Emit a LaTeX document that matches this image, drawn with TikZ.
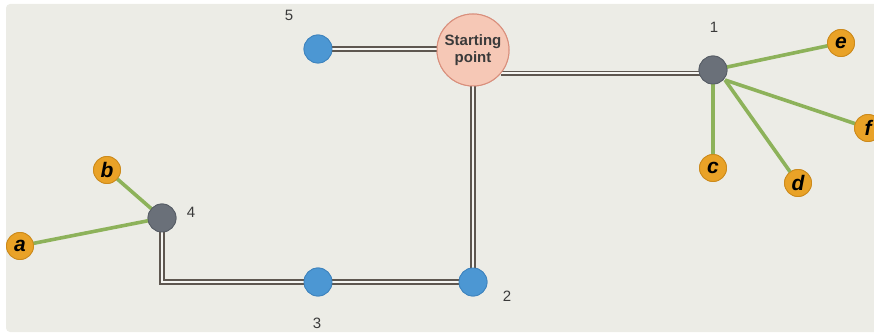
\documentclass[tikz,border=0pt]{standalone}
\usepackage{fontspec}
\setmainfont{Liberation Sans}
\begin{document}
\definecolor{bgc}{HTML}{ECECE6}
\definecolor{leafc}{HTML}{E9A227}
\definecolor{leafd}{HTML}{CC8A1C}
\definecolor{bluec}{HTML}{4C97D3}
\definecolor{blued}{HTML}{3F84BE}
\definecolor{hubc}{HTML}{6A7079}
\definecolor{hubd}{HTML}{575D66}
\definecolor{greenc}{HTML}{8DB25A}
\definecolor{startc}{HTML}{F6C8B6}
\definecolor{startd}{HTML}{D98F7C}
\definecolor{pipec}{HTML}{5E5750}
\definecolor{txtc}{HTML}{3A3A3A}
\begin{tikzpicture}[x=1pt,y=-1pt,
  leaf/.style={circle,fill=leafc,draw=leafd,line width=0.8pt,minimum size=27pt,inner sep=0pt,
    font=\itshape\bfseries\fontsize{21}{21}\selectfont,text=black},
  stop/.style={circle,fill=bluec,draw=blued,line width=0.8pt,minimum size=28pt,inner sep=0pt},
  hub/.style={circle,fill=hubc,draw=hubd,line width=0.8pt,minimum size=28pt,inner sep=0pt},
  startnode/.style={circle,fill=startc,draw=startd,line width=1pt,minimum size=72pt,inner sep=0pt,
    align=center,font=\bfseries\fontsize{15}{17}\selectfont,text=txtc},
  num/.style={font=\fontsize{15}{15}\selectfont,text=txtc},
  pipe/.style={draw=pipec,line width=5.6pt,postaction={draw=bgc!50!white,line width=2pt}},
  twig/.style={draw=greenc,line width=3.6pt}]
\useasboundingbox (0,0) rectangle (874,336);
\fill[bgc,rounded corners=4pt] (6,4) rectangle (880,332);

% node positions
\coordinate (p5) at (318,49);
\node[startnode] (start) at (473,50) {Starting\\point};
\node[stop] (n5) at (p5) {};
\node[hub] (n1) at (713,70) {};
\node[stop] (n2) at (473,282) {};
\node[stop] (n3) at (318,282) {};
\node[hub] (n4) at (162,218) {};
\node[leaf] (e) at (841,43) {e};
\node[leaf] (f) at (868,128) {f};
\node[leaf] (c) at (713,168) {c};
\node[leaf] (d) at (798,183) {d};
\node[leaf] (b) at (107,170) {b};
\node[leaf] (a) at (20,246) {a};

% labels
\node[num] (l5) at (289,15) {5};
\node[num] (l1) at (714,27) {1};
\node[num] (l4) at (191,212) {4};
\node[num] (l2) at (507,296) {2};
\node[num] (l3) at (317,323) {3};

% pipes
\path[pipe] (n5.center) -- (n5.center -| start.west);
\path[pipe] (start.-40) -- (start.-40 -| n1.center);
\path[pipe] (start.south) -- (n2.center);
\path[pipe] (n2.center) -- (n3.center);
\path[pipe] (n3.center) -- (n4.center |- n3.center) -- (n4.center);

% branches
\path[twig] (n1.center) -- (e.center);
\path[twig] (n1.center) -- (c.center);
\path[twig] (n1.center) ++(12,10) coordinate (n1r) -- (d.center);
\path[twig] (n1r) -- (f.center);
\path[twig] (n4.center) -- (b.center);
\path[twig] (n4.center) -- (a.center);

% redraw nodes on top
\node[startnode] at (start) {Starting\\point};
\node[stop] at (n5) {};
\node[hub] at (n1) {};
\node[stop] at (n2) {};
\node[stop] at (n3) {};
\node[hub] at (n4) {};
\node[leaf] at (e) {e};
\node[leaf] at (f) {f};
\node[leaf] at (c) {c};
\node[leaf] at (d) {d};
\node[leaf] at (b) {b};
\node[leaf] at (a) {a};
\end{tikzpicture}
\end{document}
